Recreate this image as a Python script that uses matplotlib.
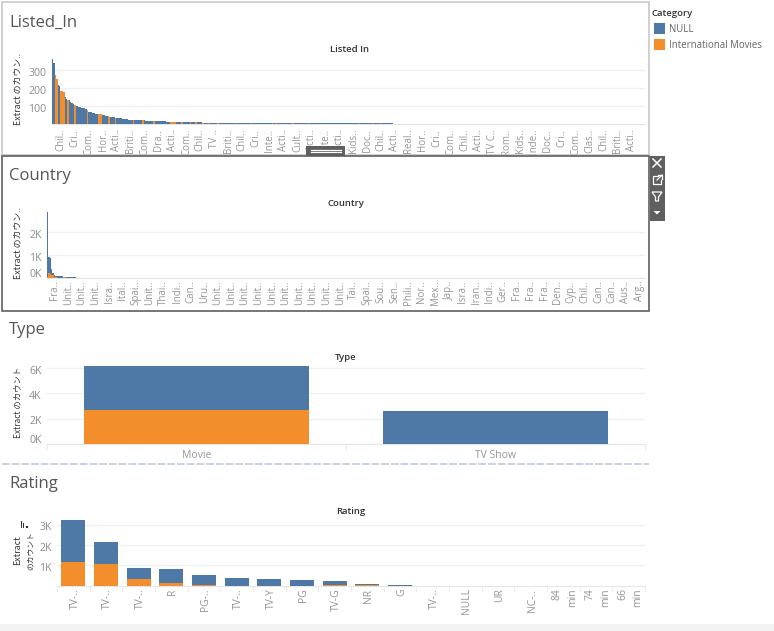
"""Tableau dashboard with four count-by-category bar sheets, redrawn in matplotlib."""
import matplotlib
matplotlib.use("Agg")
import matplotlib.pyplot as plt
from matplotlib.patches import Rectangle, Polygon
from matplotlib.transforms import ScaledTranslation

plt.rcParams["font.family"] = ["Open Sans", "Noto Sans CJK JP", "DejaVu Sans"]

W, H = 774, 631
BLUE = "#4e79a7"
ORANGE = "#f28e2b"
TICK = "#8c8c8c"
XTICK = "#969696"
GRID = "#f0f0f0"
DARK = "#333333"
YLABEL_FONT = ["Noto Sans CJK JP", "DejaVu Sans"]

# Listed In: one count per category, the orange ones are listed by index
listed_counts = [
    362, 336, 272, 250, 217, 212, 184, 184, 178, 153,
    140, 134, 132, 125, 118, 112, 105, 103, 100, 98,
    96, 93, 90, 88, 85, 80, 70, 68, 66, 65,
    62, 60, 58, 57, 56, 55, 54, 52, 48, 45,
    44, 42, 41, 40, 39, 38, 38, 36, 35, 33,
    32, 31, 30, 29, 28, 27, 27, 26, 26, 26,
    25, 25, 24, 23, 22, 22, 22, 21, 20, 20,
    20, 19, 19, 19, 18, 18, 18, 18, 18, 18,
    17, 17, 16, 15, 14, 14, 13, 13, 13, 13,
    13, 13, 12, 12, 12, 12, 12, 12, 12, 12,
    12, 12, 12, 12, 12, 11, 11, 11, 10, 10,
    9, 9, 9, 9, 9, 9, 9, 9, 9, 9,
    9, 9, 9, 9, 9, 9, 9, 9, 9, 9,
    9, 9, 9, 9, 9, 9, 9, 9, 9, 9,
    8, 8, 8, 8, 8, 8, 8, 8, 8, 8,
    8, 6, 6, 6, 6, 6, 6, 6, 6, 6,
    6, 6, 6, 6, 6, 6, 6, 6, 6, 6,
    6, 6, 6, 6, 6, 6, 6, 6, 6, 6,
    6, 6, 6, 6, 6, 6, 6, 6, 6, 6,
    6, 6, 6, 6, 6, 6, 6, 6, 6, 6,
    6, 6, 6, 6, 6, 6, 6, 6, 6, 6,
    6, 6, 6, 6, 6, 6, 6, 6, 6, 6,
    6, 6, 6, 6, 6, 6, 6, 6, 6, 6,
    6, 6, 6, 6, 6, 6, 6, 6, 6, 6,
    6, 6, 6, 6, 6,
]
listed_intl = [2, 3, 6, 7, 8, 11, 16, 25, 33, 34, 35, 40, 41, 45, 58, 65, 73,
               85, 86, 87, 88, 93, 99, 103, 108, 112, 119, 133, 143, 158, 161,
               173, 184, 220, 230, 236]
listed_labels = [
    "Chil..", "Cri..", "Com..", "Hor..", "Acti..", "Briti..", "Com..", "Dra..",
    "Acti..", "Com..", "Chil..", "TV ..", "Briti..", "Chil..", "Cri..", "Inte..",
    "Acti..", "Cult..", "Acti..", "Inte..", "Acti..", "Kids..", "Doc..", "Chil..",
    "Acti..", "Real..", "Hor..", "Cri..", "Com..", "Chil..", "Acti..", "TV C..",
    "Rom..", "Kids..", "Inde..", "Doc..", "Cri..", "Com..", "Clas..", "Chil..",
    "Briti..", "Acti..",
]

# Country: stacked counts
country_null = [2820, 720, 700, 270, 100, 90, 80, 105, 95, 90,
                60, 50, 40, 35, 40, 45, 60, 50, 45, 40, 40]
country_intl = [50, 220, 180, 130, 130, 60, 40, 0, 0, 0,
                25, 30, 35, 40, 30, 20, 0, 0, 0, 0, 0]
country_labels = [
    "Fra..", "Unit..", "Unit..", "Unit..", "Isra..", "Ital..", "Spai..", "Unit..",
    "Thai..", "Indi..", "Can..", "Uru..", "Unit..", "Unit..", "Unit..", "Unit..",
    "Unit..", "Unit..", "Unit..", "Unit..", "Unit..", "Unit..", "Tai..", "Spai..",
    "Sou..", "Sen..", "Phili..", "Nor..", "Mex..", "Jap..", "Isra..", "Iran..",
    "Indi..", "Ger..", "Fra..", "Fra..", "Fra..", "Den..", "Cyp..", "Chil..",
    "Can..", "Can..", "Aus..", "Arg..",
]

# Type
type_labels = ["Movie", "TV Show"]
type_null = [3450, 2610]
type_intl = [2680, 0]

# Rating
rating_labels = ["TV-..", "TV-..", "TV-..", "R", "PG-..", "TV-..", "TV-Y", "PG",
                 "TV-G", "NR", "G", "TV-..", "NULL", "UR", "NC-..",
                 "84\nmin", "74\nmin", "66\nmin"]
rating_null = [2086, 1080, 575, 700, 480, 365, 315, 285, 210, 75, 40, 5, 3, 3, 3, 1, 1, 1]
rating_intl = [1150, 1085, 315, 120, 30, 0, 0, 0, 20, 10, 0, 0, 0, 0, 0, 0, 0, 0]

fig = plt.figure(figsize=(W / 100, H / 100), dpi=100, facecolor="white")


def px_axes(left, top, right, bottom):
    ax = fig.add_axes([left / W, 1 - bottom / H, (right - left) / W, (bottom - top) / H])
    ax.set_facecolor("none")
    for s in ax.spines.values():
        s.set_visible(False)
    ax.spines["bottom"].set_visible(True)
    ax.spines["bottom"].set_color("#e6e6e6")
    ax.spines["bottom"].set_zorder(0.5)
    ax.yaxis.grid(True, color=GRID, linewidth=1)
    ax.set_axisbelow(True)
    ax.tick_params(axis="y", length=0, labelsize=7.6, labelcolor=TICK, pad=4)
    ax.tick_params(axis="x", length=0, labelcolor=XTICK)
    return ax


def nudge_y_labels(ax):
    # the labels sit a touch lower than matplotlib centres them
    for label in ax.get_yticklabels():
        label.set_transform(label.get_transform() + ScaledTranslation(0, -1.2 / 72, fig.dpi_scale_trans))


def x_labels(ax, ticks, labels, size=7, pad=2):
    ax.set_xticks(ticks)
    ax.set_xticklabels(labels, rotation=90, fontsize=size, color=XTICK, va="top", ha="center",
                       linespacing=1.5, multialignment="right")
    ax.tick_params(axis="x", pad=pad)


def boundary_ticks(ax, edges):
    ax.set_xticks(edges, minor=True)
    ax.tick_params(axis="x", which="minor", length=4, width=0.8, color="#ececec")


# Listed In
ax1 = px_axes(52, 55, 645, 124.5)
listed_x = list(range(len(listed_counts)))
listed_colors = [ORANGE if i in listed_intl else BLUE for i in listed_x]
ax1.bar(listed_x, listed_counts, width=1.0, color=listed_colors, linewidth=0, zorder=3)
ax1.set_xlim(-0.5, 426.1)
ax1.set_ylim(0, 382)
ax1.set_yticks([100, 200, 300])
ax1.set_yticklabels(["100", "200", "300"])
x_labels(ax1, [6.2 + 10 * i for i in range(len(listed_labels))], listed_labels, pad=3)

# Country
ax2 = px_axes(47, 210, 645, 278.3)
country_x = list(range(len(country_null)))
ax2.bar(country_x, country_intl, width=1.0, color=ORANGE, linewidth=0, zorder=3)
ax2.bar(country_x, country_null, bottom=country_intl, width=1.0, color=BLUE, linewidth=0, zorder=3)
ax2.set_xlim(-0.5, 439.5)
ax2.set_ylim(0, 2970)
ax2.set_yticks([0, 1000, 2000])
ax2.set_yticklabels(["0K", "1K", "2K"])
ax2.get_yticklabels()[0].set_verticalalignment("bottom")
x_labels(ax2, [5.2 + 10 * i for i in range(len(country_labels))], country_labels, pad=1.5)

# Type
ax3 = px_axes(47, 365, 645, 444)
ax3.bar(type_labels, type_intl, width=0.753, color=ORANGE, linewidth=0, zorder=3)
ax3.bar(type_labels, type_null, bottom=type_intl, width=0.753, color=BLUE, linewidth=0, zorder=3)
ax3.set_xlim(-0.5, 1.5)
ax3.set_ylim(0, 6235)
ax3.set_yticks([0, 2000, 4000, 6000])
ax3.set_yticklabels(["0K", "2K", "4K", "6K"])
ax3.get_yticklabels()[0].set_verticalalignment("bottom")
ax3.tick_params(axis="x", labelsize=7.5, pad=4)
boundary_ticks(ax3, [-0.5, 0.5, 1.5])

# Rating
ax4 = px_axes(57, 517, 645, 585.7)
rating_x = list(range(len(rating_labels)))
ax4.bar(rating_x, rating_intl, width=0.74, color=ORANGE, linewidth=0, zorder=3)
ax4.bar(rating_x, rating_null, bottom=rating_intl, width=0.74, color=BLUE, linewidth=0, zorder=3)
ax4.set_xlim(-0.5, 17.5)
ax4.set_ylim(0, 3380)
ax4.set_yticks([1000, 2000, 3000])
ax4.set_yticklabels(["1K", "2K", "3K"])
x_labels(ax4, [x + 0.05 for x in rating_x], rating_labels, size=7.5, pad=2)
boundary_ticks(ax4, [x - 0.5 for x in rating_x] + [17.5])

for ax in (ax1, ax2, ax3, ax4):
    nudge_y_labels(ax)

# Everything else sits on a full-size pixel overlay
ov = fig.add_axes([0, 0, 1, 1], zorder=10)
ov.set_xlim(0, W)
ov.set_ylim(H, 0)
ov.axis("off")
ov.patch.set_alpha(0)


def rect(x0, y0, x1, y1, **kw):
    ov.add_patch(Rectangle((x0, y0), x1 - x0, y1 - y0, **kw))


# page band, sheet frames, dashed divider
rect(0, 624, W, H, facecolor="#f3f3f3", edgecolor="none", zorder=0)
rect(1.5, 1.5, 648.5, 155, facecolor="none", edgecolor="#c4c4c4", linewidth=1.1)
rect(1.5, 156, 648.5, 310.5, facecolor="none", edgecolor="#5f5f5f", linewidth=1.2)
ov.plot([2, 649], [464, 464], color="#c5d3e6", linewidth=1.4, linestyle=(0, (4, 1)))

# resize handle
rect(306, 146, 345, 155.5, facecolor="#5f5f5f", edgecolor="none")
ov.plot([311, 341], [149.5, 149.5], color="white", linewidth=0.9)
ov.plot([311, 341], [152, 152], color="white", linewidth=0.9)

# floating toolbar
rect(650, 156, 665, 221, facecolor="#5f5f5f", edgecolor="none")
ov.plot([653, 661], [159, 167], color="white", linewidth=1.1)
ov.plot([653, 661], [167, 159], color="white", linewidth=1.1)
ov.plot([658, 653, 653, 661, 661], [176, 176, 184, 184, 180], color="white", linewidth=0.9)
ov.plot([657, 662], [180, 175], color="white", linewidth=0.9)
ov.plot([658, 662, 662], [175, 175, 179], color="white", linewidth=0.9)
ov.add_patch(Polygon([(652, 192), (662, 192), (658.5, 197), (658.5, 201), (655.5, 201), (655.5, 197)],
                     facecolor="none", edgecolor="white", linewidth=0.9))
ov.add_patch(Polygon([(653.5, 211), (660.5, 211), (657, 214.5)], facecolor="white", edgecolor="none"))

# sheet headings
headings = [("Listed_In", 23), ("Country", 176.5), ("Type", 330.5), ("Rating", 484)]
for name, y in headings:
    ov.text(9, y, name, fontsize=12, color="#555555", va="center", ha="left")

sub_titles = [("Listed In", 349, 49.5), ("Country", 346, 203.5), ("Type", 346, 357.5), ("Rating", 351, 511)]
for name, x, y in sub_titles:
    ov.text(x, y, name, fontsize=6.8, color=DARK, va="center", ha="center", fontweight="semibold")

# axis titles
ov.text(18, 89, "Extract のカウン..", rotation=90, fontsize=6.4, color=DARK, va="center", ha="center", family=YLABEL_FONT)
ov.text(18, 243, "Extract のカウン..", rotation=90, fontsize=6.4, color=DARK, va="center", ha="center", family=YLABEL_FONT)
ov.text(18, 402.5, "Extract のカウント", rotation=90, fontsize=6, color=DARK, va="center", ha="center", family=YLABEL_FONT)
ov.text(18, 550.5, "Extract", rotation=90, fontsize=6.4, color=DARK, va="center", ha="center", family=YLABEL_FONT)
ov.text(31, 550.5, "のカウント", rotation=90, fontsize=5.6, color=DARK, va="center", ha="center", family=YLABEL_FONT)

# sort icon on the Rating axis
rect(20.5, 521, 21.7, 527.5, facecolor=DARK, edgecolor="none")
rect(23, 523, 24.2, 527.5, facecolor=DARK, edgecolor="none")
rect(26, 525.5, 27.5, 527.5, facecolor=DARK, edgecolor="none")

# legend
ov.text(651, 13.5, "Category", fontsize=6.8, color=DARK, va="center", ha="left", fontweight="semibold")
rect(654, 23, 665, 33.5, facecolor=BLUE, edgecolor="none")
rect(654, 39, 665, 49.5, facecolor=ORANGE, edgecolor="none")
ov.text(669, 29.5, "NULL", fontsize=6.9, color="#666666", va="center", ha="left")
ov.text(669, 45.5, "International Movies", fontsize=6.9, color="#666666", va="center", ha="left")

fig.savefig("out.png", dpi=100)
